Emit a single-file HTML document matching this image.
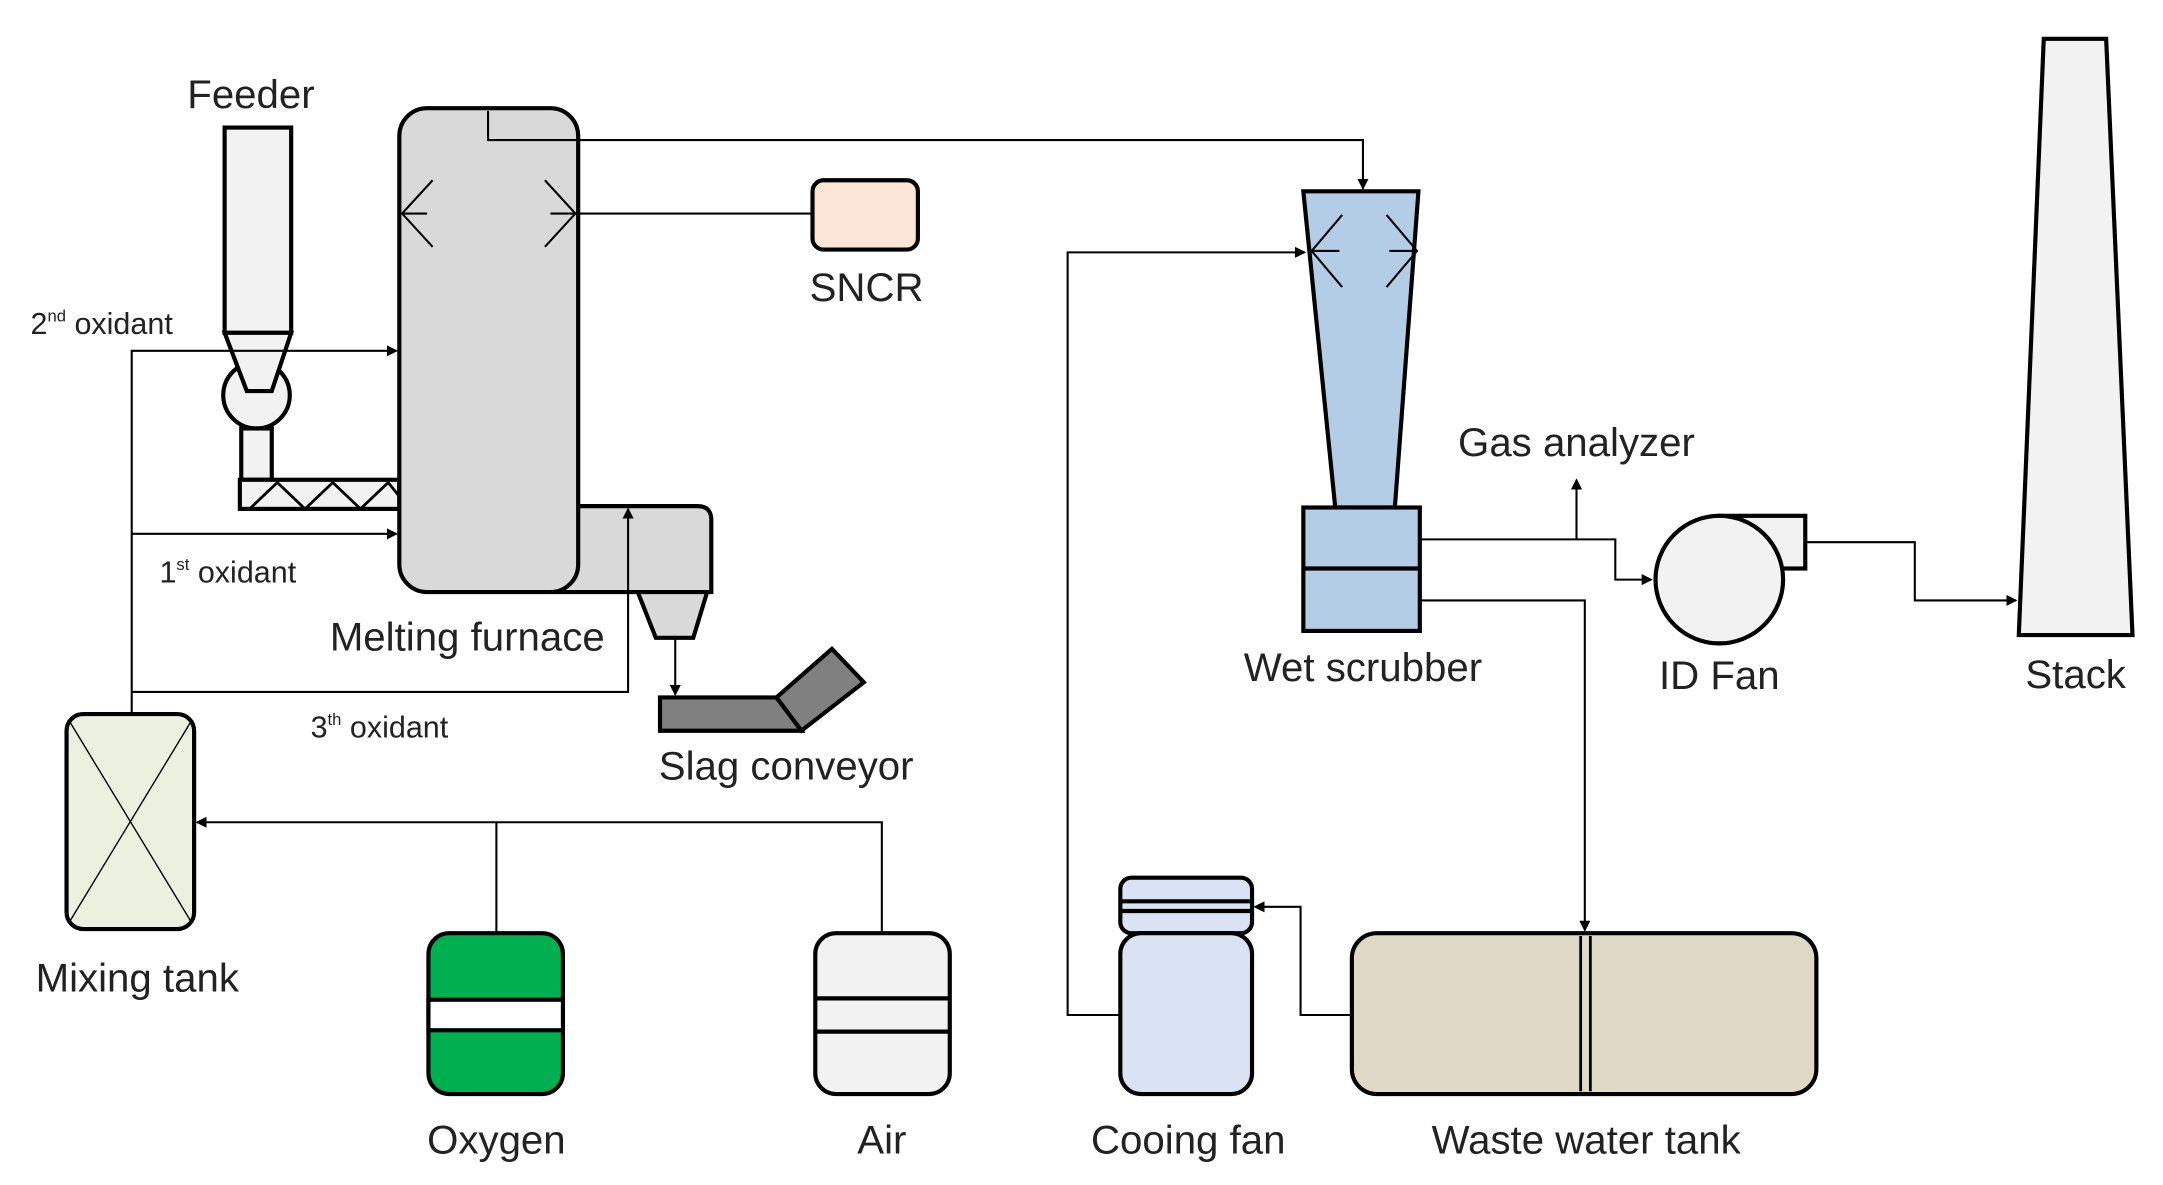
<!DOCTYPE html>
<html><head><meta charset="utf-8"><style>html,body{margin:0;padding:0;background:#fff}svg{display:block}</style></head>
<body>
<svg width="2163" height="1185" viewBox="0 0 1560 854.6" preserveAspectRatio="none" xmlns="http://www.w3.org/2000/svg" font-family="Liberation Sans, sans-serif" fill="none">
<defs>
<marker id="a" markerWidth="8" markerHeight="8" refX="7" refY="4" orient="auto" markerUnits="userSpaceOnUse"><path d="M0,0 L8,4 L0,8 z" fill="#000"/></marker>
</defs>
<g stroke="#000">
<rect x="162" y="92" width="48" height="148" fill="#f2f2f2" stroke-width="3"/>
<circle cx="185" cy="285" r="24" fill="#f2f2f2" stroke-width="3"/>
<path d="M162,240 L210,240 L196,282 L178,282 Z" fill="#f2f2f2" stroke-width="3"/>
<rect x="174" y="309" width="22" height="37" fill="#f2f2f2" stroke-width="3"/>
<rect x="173" y="346" width="115" height="21" fill="#f2f2f2" stroke-width="3"/>
<path d="M180,367 L200,348 L220,367 L240,348 L260,367 L280,348 L288,358" stroke-width="2"/>
<path d="M400,365 L503,365 Q513,365 513,375 L513,427 L400,427 Z" fill="#d9d9d9" stroke-width="3"/>
<path d="M460,427 L510,427 L500,460 L473,460 Z" fill="#d9d9d9" stroke-width="3"/>
<rect x="288" y="78" width="129" height="349" rx="20" fill="#d9d9d9" stroke-width="3"/>
<path d="M312,130 L290,154 L312,178 M290,154 L308,154" stroke-width="1.5"/>
<path d="M393,130 L415,154 L393,178 M397,154 L586,154" stroke-width="1.5"/>
<path d="M352,80 L352,101 L983,101 L983,136" stroke-width="1.5" marker-end="url(#a)"/>
<rect x="586" y="130" width="76" height="50" rx="8" fill="#fbe5d6" stroke-width="3"/>
<path d="M487,460 L487,501" stroke-width="1.5" marker-end="url(#a)"/>
<path d="M560,503 L600,468 L623,492 L578,527 Z" fill="#808080" stroke-width="3"/>
<path d="M476,503 L560,503 L578,527 L476,527 Z" fill="#808080" stroke-width="3"/>
<path d="M95,515 L95,253 L286,253" stroke-width="1.5" marker-end="url(#a)"/>
<path d="M95,385 L286,385" stroke-width="1.5" marker-end="url(#a)"/>
<path d="M95,499 L453,499 L453,367" stroke-width="1.5" marker-end="url(#a)"/>
<rect x="48" y="515" width="92" height="155" rx="12" fill="#ebf1de" stroke-width="3"/>
<path d="M50,520 L138,665 M138,520 L50,665" stroke-width="1"/>
<path d="M636,673 L636,593 L142,593" stroke-width="1.5" marker-end="url(#a)"/>
<path d="M358,593 L358,673" stroke-width="1.5"/>
<rect x="309" y="673" width="97" height="116" rx="15" fill="#00b050" stroke-width="3"/>
<rect x="309" y="721" width="97" height="22" fill="#fff" stroke-width="3"/>
<rect x="588" y="673" width="97" height="116" rx="15" fill="#f2f2f2" stroke-width="3"/>
<path d="M588,720 L685,720 M588,744 L685,744" stroke-width="3"/>
<rect x="808" y="633" width="95" height="40" rx="8" fill="#dae3f3" stroke-width="3"/>
<path d="M808,650 L903,650 M808,657 L903,657" stroke-width="3"/>
<rect x="808" y="673" width="95" height="116" rx="15" fill="#dae3f3" stroke-width="3"/>
<path d="M808,732 L770,732 L770,182 L941,182" stroke-width="1.5" marker-end="url(#a)"/>
<rect x="975" y="673" width="335" height="116" rx="18" fill="#ddd9c4" stroke-width="3"/>
<path d="M1140,675 L1140,787 M1147,675 L1147,787" stroke-width="2"/>
<path d="M975,732 L938,732 L938,654 L905,654" stroke-width="1.5" marker-end="url(#a)"/>
<path d="M1025,433 L1143,433 L1143,671" stroke-width="1.5" marker-end="url(#a)"/>
<path d="M940,138 L1023,138 L1006,366 L963,366 Z" fill="#b4cde6" stroke-width="3"/>
<path d="M968,155 L946,181 L968,207 M946,181 L966,181" stroke-width="1.5"/>
<path d="M1000,155 L1022,181 L1000,207 M1022,181 L1002,181" stroke-width="1.5"/>
<rect x="940" y="366" width="84" height="89" fill="#b4cde6" stroke-width="3"/>
<path d="M940,410 L1024,410" stroke-width="3"/>
<path d="M1024,389 L1165,389 L1165,418 L1191,418" stroke-width="1.5" marker-end="url(#a)"/>
<path d="M1137,389 L1137,346" stroke-width="1.5" marker-end="url(#a)"/>
<rect x="1240" y="372" width="62" height="38" fill="#f2f2f2" stroke-width="3"/>
<ellipse cx="1240" cy="418" rx="46" ry="46" fill="#f2f2f2" stroke-width="3"/>
<path d="M1302,391 L1381,391 L1381,433 L1454,433" stroke-width="1.5" marker-end="url(#a)"/>
<path d="M1474,28 L1519,28 L1538,458 L1456,458 Z" fill="#f2f2f2" stroke-width="3"/>
</g>
<g fill="#222" font-size="29" text-anchor="middle">
<text x="181" y="78">Feeder</text>
<text x="625" y="217">SNCR</text>
<text x="337" y="469">Melting furnace</text>
<text x="567" y="562">Slag conveyor</text>
<text x="99" y="715">Mixing tank</text>
<text x="358" y="832">Oxygen</text>
<text x="636" y="832">Air</text>
<text x="857" y="832">Cooing fan</text>
<text x="1144" y="832">Waste water tank</text>
<text x="983" y="491">Wet scrubber</text>
<text x="1137" y="329">Gas analyzer</text>
<text x="1240" y="497">ID Fan</text>
<text x="1497" y="496">Stack</text>
</g>
<g fill="#222" font-size="22">
<text x="22" y="241">2<tspan font-size="12" dy="-9">nd</tspan><tspan dy="9"> oxidant</tspan></text>
<text x="115" y="420">1<tspan font-size="12" dy="-9">st</tspan><tspan dy="9"> oxidant</tspan></text>
<text x="224" y="532">3<tspan font-size="12" dy="-9">th</tspan><tspan dy="9"> oxidant</tspan></text>
</g>
</svg>
</body></html>
